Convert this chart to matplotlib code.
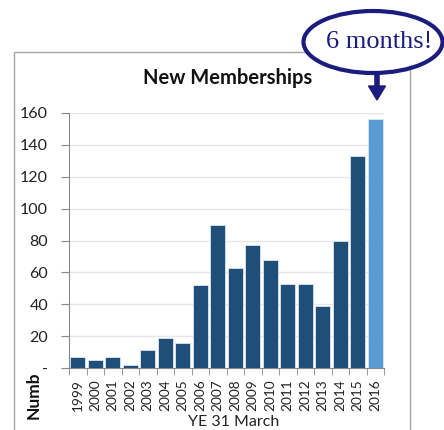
import numpy as np
import matplotlib
matplotlib.use('Agg')
import matplotlib.pyplot as plt
from matplotlib.patches import Rectangle, Ellipse, FancyArrow

# data
years = [str(y) for y in range(1999, 2017)]
members = [7, 5, 7, 2, 11, 19, 16, 52, 90, 63, 77, 68, 53, 53, 39, 80, 133, 156]
yticks = [0, 20, 40, 60, 80, 100, 120, 140, 160]
ytick_labels = ['-', '20', '40', '60', '80', '100', '120', '140', '160']

dark = '#1F4E79'
light = '#5B9BD5'
navy = '#1C1C7E'

plt.rcParams['font.family'] = ['Lato', 'DejaVu Sans']

fig = plt.figure(figsize=(4.44, 4.30), dpi=100)

# outer chart frame
fig.patches.append(Rectangle((14 / 444, -0.05), 396 / 444, 1 - 52 / 430 + 0.05,
                             transform=fig.transFigure, fill=False,
                             edgecolor='#A6A6A6', lw=1.0, zorder=0))

ax = fig.add_axes([69 / 444, 1 - 368 / 430, 315 / 444, 255 / 430])

x = np.arange(len(years))
colors = [dark] * (len(years) - 1) + [light]
ax.bar(x, members, width=0.84, color=colors, edgecolor='#DCE6F0', linewidth=0.6, zorder=3)

ax.set_xlim(-0.5, len(years) - 0.5)
ax.set_ylim(0, 160)
ax.set_yticks(yticks)
ax.set_yticklabels(ytick_labels, fontsize=11.5, color='#222222')
ax.set_xticks(x)
ax.set_xticklabels(years, rotation=90, fontsize=9.8, color='#222222')
ax.tick_params(axis='x', length=0, pad=8)
ax.tick_params(axis='y', length=6, color='#888888', pad=9)
ax.set_xticks(np.arange(-0.5, len(years), 1), minor=True)
ax.tick_params(axis='x', which='minor', length=5, color='#888888')

ax.grid(axis='y', color='#E6E6E6', lw=1.0, zorder=0)
for s in ['top', 'right']:
    ax.spines[s].set_visible(False)
for s in ['left', 'bottom']:
    ax.spines[s].set_color('#888888')

ax.set_xlabel('YE 31 March', fontsize=11.5, color='#222222')
ax.xaxis.set_label_coords(0.524, -0.185)

fig.text(228 / 444, 1 - 78 / 430, 'New Memberships', ha='center', va='center',
         fontsize=14.5, fontweight='bold', color='#111111')

# clipped y axis title
fig.text(34 / 444, 1 - 395 / 430, 'Numb', rotation=90, ha='center', va='center',
         fontsize=12.5, fontweight='bold', color='#111111')

# callout
fig.patches.append(Ellipse((373 / 444, 1 - 42 / 430), 139 / 444, 62 / 430,
                           transform=fig.transFigure, facecolor='white',
                           edgecolor=navy, lw=3, zorder=5))
fig.text(379 / 444, 1 - 42 / 430, '6 months!', ha='center', va='center',
         fontsize=19, family=['Liberation Serif', 'DejaVu Serif'], color=navy, zorder=6)
fig.patches.append(FancyArrow(377 / 444, 1 - 73 / 430, 0, -27 / 430,
                              width=4 / 430, head_width=17 / 444, head_length=14 / 430,
                              length_includes_head=True, transform=fig.transFigure,
                              color=navy, zorder=5))

fig.savefig('out.png', dpi=100)
